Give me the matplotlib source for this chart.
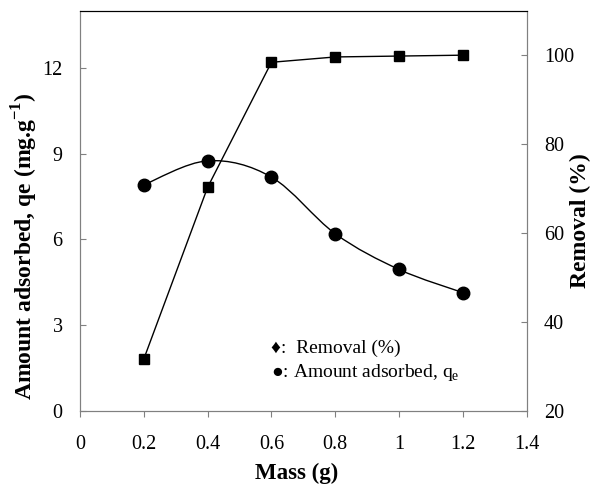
import matplotlib as mp
import matplotlib.pyplot as plt
from matplotlib.path import Path
from matplotlib.patches import PathPatch

plt.rcParams['font.family'] = ['Liberation Serif', 'DejaVu Serif']
plt.rcParams['mathtext.fontset'] = 'custom'
plt.rcParams['mathtext.rm'] = 'Liberation Serif'
plt.rcParams['mathtext.bf'] = 'Liberation Serif:bold'

mass = [0.2, 0.4, 0.6, 0.8, 1.0, 1.2]
qe = [7.91, 8.75, 8.18, 6.2, 4.95, 4.14]
removal = [31.7, 70.3, 98.4, 99.6, 99.8, 100.0]

x_ticks = [0, 0.2, 0.4, 0.6, 0.8, 1, 1.2, 1.4]
x_labels = ['0', '0.2', '0.4', '0.6', '0.8', '1', '1.2', '1.4']
qe_ticks = [0, 3, 6, 9, 12]
rem_ticks = [20, 40, 60, 80, 100]

GRAY = '#808080'


def smooth_path(xs, ys):
    # excel style smoothed line: cubic bezier, catmull-rom control points
    px = [xs[0]] + list(xs) + [xs[-1]]
    py = [ys[0]] + list(ys) + [ys[-1]]
    verts = [(xs[0], ys[0])]
    codes = [Path.MOVETO]
    for i in range(1, len(xs)):
        c1 = (px[i] + (px[i + 1] - px[i - 1]) / 6, py[i] + (py[i + 1] - py[i - 1]) / 6)
        c2 = (px[i + 1] - (px[i + 2] - px[i]) / 6, py[i + 1] - (py[i + 2] - py[i]) / 6)
        verts += [c1, c2, (px[i + 1], py[i + 1])]
        codes += [Path.CURVE4] * 3
    return Path(verts, codes)


fig = plt.figure(figsize=(5.9, 4.86), dpi=100)
ax = fig.add_axes([0.1356, 0.1543, 0.7571, 0.8237])
ax2 = ax.twinx()

ax.add_patch(PathPatch(smooth_path(mass, qe), facecolor='none', edgecolor='black', lw=1.0))
ax.plot(mass, qe, 'o', color='black', ms=9, zorder=3)
ax2.plot(mass, removal, '-s', color='black', lw=1.0, ms=7.5, zorder=3)

ax.set_xlim(0, 1.4)
ax.set_ylim(0, 14)
ax2.set_ylim(20, 110)
ax.set_xticks(x_ticks)
ax.set_xticklabels(x_labels)
ax.set_yticks(qe_ticks)
ax2.set_yticks(rem_ticks)

for a in (ax, ax2):
    for s in ('left', 'right', 'bottom'):
        a.spines[s].set_color(GRAY)
    a.spines['top'].set_color('black')
ax.tick_params(axis='x', direction='out', length=4, color=GRAY, labelsize=14.5, pad=13)
ax.tick_params(axis='y', direction='in', length=4, color=GRAY, labelsize=14.5, pad=12.5)
ax2.tick_params(axis='y', direction='in', length=4, color=GRAY, labelsize=14.5, pad=12.5)

ax.set_xlabel('Mass (g)', fontsize=16.5, fontweight='bold')
ax.set_ylabel(r'Amount adsorbed, qe (mg.g$^{\mathbf{-1}}$)', fontsize=17, fontweight='bold')
ax2.set_ylabel('Removal (%)', fontsize=17, fontweight='bold', rotation=90)

ax.xaxis.set_label_coords(0.484, -0.157)
ax.xaxis.label.set_va('center')
ax.yaxis.set_label_coords(-0.123, 0.411)
ax.yaxis.label.set_va('center')
ax2.yaxis.set_label_coords(1.121, 0.475)
ax2.yaxis.label.set_va('center')

ax.text(0.6, 2.2, '\u2666:  Removal (%)', fontsize=14, va='center')
ax.text(0.6, 1.34, '\u25CF: Amount adsorbed, q$_{\\mathrm{e}}$', fontsize=14, va='center')

fig.savefig('out.png', dpi=100)
